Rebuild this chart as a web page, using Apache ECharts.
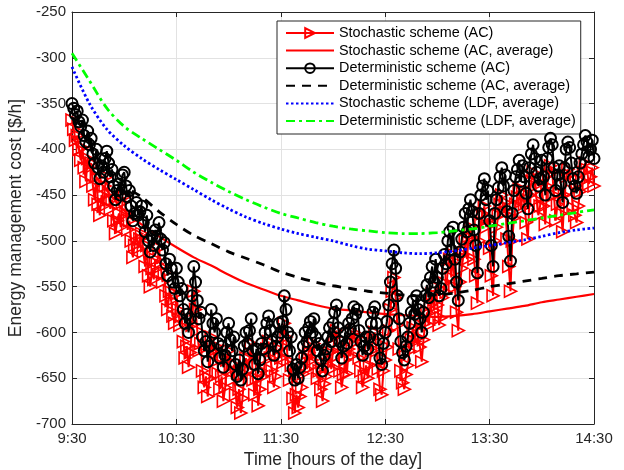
<!DOCTYPE html>
<html><head><meta charset="utf-8">
<script src="https://cdn.jsdelivr.net/npm/echarts@6/dist/echarts.min.js"></script>
<style>html,body{margin:0;padding:0;background:#fff}#c{width:624px;height:470px}</style>
</head><body><div id="c"></div>
<script>
const xTickLabels = ['9:30','10:30','11:30','12:30','13:30','14:30'];
const seriesNames = ['Stochastic scheme (AC)','Stochastic scheme (AC, average)','Deterministic scheme (AC)','Deterministic scheme (AC, average)','Stochastic scheme (LDF, average)','Deterministic scheme (LDF, average)'];
const noisyStepMin = 1;
const avgStepMin = 10;
const stochAC = [
 -368,-378,-390,-385,-400,-412,-398,-420,-435,-410,
 -420,-415,-440,-455,-430,-460,-472,-450,-462,-440,
 -430,-448,-465,-455,-478,-492,-478,-470,-485,-458,
 -452,-470,-488,-478,-500,-518,-505,-492,-508,-498,
 -492,-512,-528,-505,-538,-550,-530,-542,-520,-525,
 -508,-528,-545,-535,-560,-575,-555,-565,-582,-590,
 -558,-575,-592,-582,-610,-628,-615,-638,-622,-592,
 -555,-575,-598,-620,-612,-642,-660,-648,-670,-650,
 -605,-620,-632,-615,-645,-662,-648,-675,-660,-630,
 -620,-640,-652,-635,-668,-682,-662,-688,-672,-645,
 -628,-642,-628,-612,-652,-668,-650,-680,-662,-642,
 -648,-628,-618,-610,-628,-642,-660,-648,-636,-618,
 -628,-615,-590,-605,-630,-652,-636,-672,-688,-668,
 -682,-670,-660,-645,-628,-640,-622,-615,-630,-612,
 -635,-650,-642,-662,-675,-656,-648,-635,-622,-640,
 -620,-605,-598,-625,-642,-660,-646,-630,-645,-618,
 -626,-612,-600,-610,-605,-628,-642,-660,-648,-636,
 -650,-636,-620,-606,-600,-620,-640,-662,-668,-642,
 -630,-616,-598,-575,-555,-540,-562,-592,-618,-642,
 -655,-662,-646,-636,-620,-608,-595,-610,-590,-606,
 -616,-632,-608,-590,-578,-592,-570,-558,-576,-550,
 -570,-592,-584,-562,-546,-556,-530,-520,-540,-515,
 -550,-578,-598,-545,-530,-515,-500,-520,-495,-485,
 -498,-520,-538,-568,-500,-480,-470,-462,-485,-475,
 -508,-538,-560,-500,-485,-472,-460,-450,-470,-458,
 -498,-528,-555,-500,-475,-460,-452,-442,-465,-448,
 -460,-480,-498,-450,-435,-425,-440,-455,-472,-462,
 -442,-462,-482,-440,-428,-418,-425,-450,-478,-460,
 -448,-470,-490,-450,-430,-422,-428,-445,-464,-472,
 -480,-462,-446,-435,-425,-415,-422,-438,-430,-420,
 -440];
const detAC = [
 -350,-355,-362,-358,-370,-375,-368,-385,-392,-380,
 -395,-388,-405,-415,-400,-420,-432,-418,-425,-410,
 -402,-415,-430,-422,-440,-455,-445,-438,-450,-428,
 -425,-440,-452,-445,-462,-478,-470,-458,-472,-468,
 -462,-480,-490,-472,-500,-512,-495,-505,-488,-495,
 -480,-498,-510,-502,-525,-538,-520,-530,-545,-552,
 -530,-545,-560,-552,-575,-590,-580,-600,-585,-560,
 -528,-545,-565,-585,-578,-605,-620,-610,-632,-615,
 -575,-590,-600,-585,-612,-628,-615,-638,-625,-600,
 -590,-608,-620,-605,-635,-648,-630,-652,-640,-615,
 -600,-612,-598,-585,-620,-635,-618,-645,-630,-612,
 -618,-600,-590,-582,-598,-610,-625,-615,-605,-590,
 -600,-588,-560,-575,-600,-620,-605,-640,-652,-635,
 -650,-638,-628,-615,-600,-610,-595,-588,-600,-585,
 -605,-620,-612,-630,-642,-625,-618,-605,-595,-610,
 -590,-578,-570,-595,-610,-628,-615,-600,-612,-590,
 -596,-585,-572,-580,-575,-598,-610,-625,-615,-605,
 -618,-605,-590,-578,-572,-590,-608,-628,-635,-612,
 -600,-588,-570,-545,-525,-510,-530,-560,-585,-610,
 -622,-630,-615,-605,-590,-578,-565,-580,-560,-575,
 -585,-600,-578,-560,-548,-562,-540,-528,-545,-520,
 -540,-560,-552,-530,-515,-525,-500,-490,-510,-485,
 -520,-545,-565,-512,-498,-485,-470,-490,-465,-455,
 -468,-488,-505,-535,-470,-450,-440,-432,-455,-445,
 -478,-505,-528,-470,-455,-442,-430,-420,-440,-428,
 -468,-495,-522,-470,-445,-430,-422,-412,-435,-418,
 -430,-448,-465,-420,-405,-395,-410,-425,-440,-432,
 -412,-430,-450,-410,-398,-388,-395,-420,-445,-428,
 -418,-438,-458,-420,-400,-392,-398,-415,-432,-440,
 -448,-430,-415,-405,-395,-385,-392,-408,-400,-390,
 -410];
const stochACAvg = [-385,-420,-445,-467,-482,-495,-507,-518,-527,-537,-546,-553,-560,-565,-570,-574,-576,-578,-580,-581,-582,-583,-582,-580,-577,-574,-571,-567,-564,-561,-558];
const detACAvg = [-365,-395,-422,-440,-452,-468,-482,-494,-503,-512,-519,-526,-534,-540,-545,-549,-552,-555,-557,-559,-560,-559,-557,-554,-550,-547,-544,-541,-538,-536,-534];
const stochLDFAvg = [-310,-350,-378,-396,-410,-422,-433,-444,-455,-465,-474,-481,-487,-492,-496,-500,-505,-509,-511,-513,-514,-513,-511,-508,-505,-502,-499,-495,-491,-488,-486];
const detLDFAvg = [-295,-325,-355,-375,-388,-400,-412,-425,-436,-446,-455,-463,-470,-475,-480,-484,-487,-489,-491,-492,-492,-491,-489,-487,-484,-481,-478,-475,-472,-469,-466];

function pts(arr, step){ return arr.map((v,i)=>[i*step, v]); }

const FONT = '"Liberation Sans", Arial, sans-serif';
const AX = '#262626';
const CLEAR = 'rgba(0,0,0,0)';
const chart = echarts.init(document.getElementById('c'), null, {renderer:'canvas'});
const xAxisBase = {type:'value', min:0, max:300, interval:60};
const yAxisBase = {type:'value', min:-700, max:-250, interval:50};
function avgSeries(name, arr, color, width, dash, z){
  return {name:name, type:'line', data:pts(arr, avgStepMin), smooth:0.3,
    symbol:'rect', showSymbol:false,
    lineStyle:{color:color, width:width, type:dash},
    itemStyle:{color:CLEAR, borderWidth:0, borderColor:CLEAR}, z:z};
}
chart.setOption({
  animation:false,
  backgroundColor:'#fff',
  grid:{left:72, right:30, top:12, bottom:46, show:false, containLabel:false, outerBoundsMode:'none'},
  legend:{
    orient:'vertical', left:277, top:21,
    itemWidth:48, itemHeight:12, itemGap:3.6,
    padding:[5,5,6,8],
    backgroundColor:'#fff', borderColor:AX, borderWidth:1,
    textStyle:{fontFamily:FONT, fontSize:14.4, color:'#000', lineHeight:14},
    data:seriesNames
  },
  xAxis:[
    Object.assign({}, xAxisBase, {position:'bottom',
      name:'Time [hours of the day]', nameLocation:'middle', nameGap:25,
      nameTextStyle:{fontFamily:FONT, fontSize:17.5, color:AX},
      axisLine:{show:true, onZero:false, lineStyle:{color:AX, width:1}},
      axisTick:{show:true, inside:true, length:5, lineStyle:{color:AX}},
      axisLabel:{fontFamily:FONT, fontSize:15, color:AX, margin:7, formatter:(v)=>xTickLabels[Math.round(v/60)]},
      splitLine:{show:true, lineStyle:{color:'#e2e2e2', width:1}}}),
    Object.assign({}, xAxisBase, {position:'top',
      axisLine:{show:true, onZero:false, lineStyle:{color:AX, width:1}},
      axisTick:{show:true, inside:true, length:5, lineStyle:{color:AX}},
      axisLabel:{show:false}, splitLine:{show:false}})
  ],
  yAxis:[
    Object.assign({}, yAxisBase, {position:'left',
      name:'Energy management cost [$/h]', nameLocation:'middle', nameGap:33,
      nameTextStyle:{fontFamily:FONT, fontSize:17.5, color:AX},
      axisLine:{show:true, onZero:false, lineStyle:{color:AX, width:1}},
      axisTick:{show:true, inside:true, length:5, lineStyle:{color:AX}},
      axisLabel:{fontFamily:FONT, fontSize:15, color:AX, margin:6},
      splitLine:{show:true, lineStyle:{color:'#e2e2e2', width:1}}}),
    Object.assign({}, yAxisBase, {position:'right',
      axisLine:{show:true, onZero:false, lineStyle:{color:AX, width:1}},
      axisTick:{show:true, inside:true, length:5, lineStyle:{color:AX}},
      axisLabel:{show:false}, splitLine:{show:false}})
  ],
  series:[
    {name:seriesNames[0], type:'line', data:pts(stochAC, noisyStepMin),
     symbol:'triangle', symbolRotate:-90, symbolSize:12, showAllSymbol:true,
     lineStyle:{color:'#ff0000', width:2},
     itemStyle:{color:CLEAR, borderColor:'#ff0000', borderWidth:1.6}, z:2},
    avgSeries(seriesNames[1], stochACAvg, '#ff0000', 2.2, 'solid', 3),
    {name:seriesNames[2], type:'line', data:pts(detAC, noisyStepMin),
     symbol:'circle', symbolSize:11, showAllSymbol:true,
     lineStyle:{color:'#000', width:2},
     itemStyle:{color:CLEAR, borderColor:'#000', borderWidth:2}, z:4},
    avgSeries(seriesNames[3], detACAvg, '#000000', 2.8, [9,7], 5),
    avgSeries(seriesNames[4], stochLDFAvg, '#0000ff', 2.8, [2.5,2.5], 5),
    avgSeries(seriesNames[5], detLDFAvg, '#00ff00', 2.8, [9,4,3,4], 5)
  ]
});
</script></body></html>
